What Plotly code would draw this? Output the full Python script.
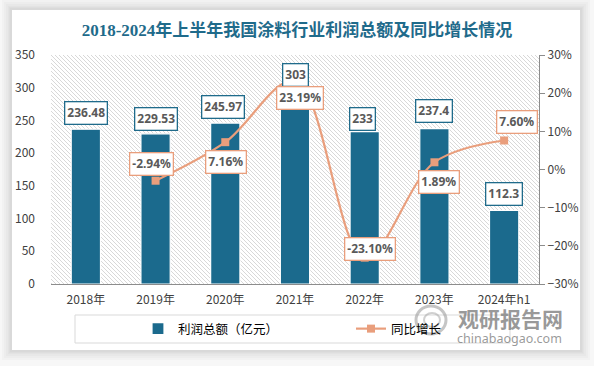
import base64
import plotly.graph_objects as go

categories = ["2018年", "2019年", "2020年", "2021年", "2022年", "2023年", "2024年h1"]
profit = [236.48, 229.53, 245.97, 303, 233, 237.4, 112.3]
growth = [None, -2.94, 7.16, 23.19, -23.10, 1.89, 7.60]
profit_labels = ["236.48", "229.53", "245.97", "303", "233", "237.4", "112.3"]
growth_labels = ["", "-2.94%", "7.16%", "23.19%", "-23.10%", "1.89%", "7.60%"]

# label offsets (px) – styling only
bar_lbl_shift = [(0, 16), (0, 15), (-2, 16), (0, 11), (-2, 13), (0, 18), (0, 17)]
line_lbl_shift = [None, (-4, 17), (1, -20), (5, -17), (5, 9), (5, -20), (13, 18)]

BAR = "#1b6a8d"
LINE = "#e99e7c"
TITLE = "#1f6b8b"

# plot-area geometry in px
L, R, T, B = 51, 539, 55, 284
W, H = 594, 366
PW, PH = R - L, B - T


def px(x):
    return (x - L) / PW


def py(y):
    return (B - y) / PH


fig = go.Figure()
fig.add_trace(go.Bar(
    x=categories, y=profit, name="利润总额（亿元）",
    marker=dict(color=BAR, line=dict(color="white", width=1.2)),
    width=0.42, yaxis="y",
))
fig.add_trace(go.Scatter(
    x=categories, y=growth, name="同比增长", yaxis="y2", mode="lines+markers",
    line=dict(color=LINE, width=2.2, shape="spline", smoothing=1.0),
    marker=dict(symbol="square", size=8, color=LINE),
    connectgaps=False,
))

annotations = []
for c, v, t, (dx, dy) in zip(categories, profit, profit_labels, bar_lbl_shift):
    annotations.append(dict(
        x=c, y=v, xref="x", yref="y", text=t, showarrow=False,
        xshift=dx, yshift=dy, yanchor="middle",
        font=dict(family="Noto Sans, DejaVu Sans", size=12, color="#595959", weight="bold"),
        bgcolor="white", bordercolor=TITLE, borderwidth=1.3, borderpad=2,
    ))
for c, v, t, s in zip(categories, growth, growth_labels, line_lbl_shift):
    if v is None:
        continue
    dx, dy = s
    annotations.append(dict(
        x=c, y=v, xref="x", yref="y2", text=t, showarrow=False,
        xshift=dx, yshift=dy, yanchor="middle",
        font=dict(family="Noto Sans, DejaVu Sans", size=12, color="#595959", weight="bold"),
        bgcolor="white", bordercolor=LINE, borderwidth=1.3, borderpad=2,
    ))

# watermark
annotations.append(dict(
    x=px(510), y=py(318), xref="paper", yref="paper", text="<b>观研报告网</b>",
    xanchor="center", yanchor="middle",
    showarrow=False, font=dict(family="Noto Sans CJK SC", size=21, color="rgba(120,120,120,0.75)"),
))
annotations.append(dict(
    x=px(509), y=py(338), xref="paper", yref="paper", text="chinabaogao.com",
    xanchor="center", yanchor="middle",
    showarrow=False, font=dict(family="Noto Sans, DejaVu Sans", size=12.5, color="rgba(120,120,120,0.75)"),
))

# hatched plot background
svg = (
    f'<svg xmlns="http://www.w3.org/2000/svg" width="{PW}" height="{PH}" viewBox="0 0 {PW} {PH}" preserveAspectRatio="none">'
    '<defs><pattern id="p" width="4" height="4" patternUnits="userSpaceOnUse">'
    '<path d="M-1,-1 L5,5 M-1,3 L1,5 M3,-1 L5,1" stroke="#d4d4d4" stroke-width="0.9"/>'
    '</pattern></defs>'
    f'<rect width="{PW}" height="{PH}" fill="white"/>'
    f'<rect width="{PW}" height="{PH}" fill="url(#p)"/></svg>'
)
src = "data:image/svg+xml;base64," + base64.b64encode(svg.encode()).decode()
images = [dict(source=src, xref="paper", yref="paper", x=0, y=1, sizex=1, sizey=1,
               xanchor="left", yanchor="top", sizing="stretch", layer="below")]

# card shadow rings (outside the white card)
cx0, cy0, cx1, cy1 = 12, 10, 580, 350
shapes = []


def ring(pad, color):
    ox0, oy0, ox1, oy1 = cx0 - pad, cy0 - pad, cx1 + pad, cy1 + pad
    path = (f"M{px(ox0)},{py(oy0)} L{px(ox1)},{py(oy0)} L{px(ox1)},{py(oy1)} L{px(ox0)},{py(oy1)} Z "
            f"M{px(cx0)},{py(cy0)} L{px(cx0)},{py(cy1)} L{px(cx1)},{py(cy1)} L{px(cx1)},{py(cy0)} Z")
    return dict(type="path", xref="paper", yref="paper", path=path,
                fillcolor=color, line=dict(width=0), layer="below")


shapes.append(ring(40, "rgba(0,0,0,0.03)"))
for p in [10, 8, 6, 4, 3, 2]:
    shapes.append(ring(p, "rgba(0,0,0,0.018)"))

# legend frame
shapes.append(dict(type="rect", xref="paper", yref="paper",
                   x0=px(75), x1=px(510), y0=py(315), y1=py(343),
                   line=dict(color="#d9d9d9", width=1), fillcolor="rgba(0,0,0,0)", layer="above"))
# watermark logo
shapes.append(dict(type="circle", xref="paper", yref="paper",
                   x0=px(416), x1=px(446), y0=py(334), y1=py(306),
                   line=dict(color="rgba(150,150,150,0.55)", width=3), layer="above"))
shapes.append(dict(type="circle", xref="paper", yref="paper",
                   x0=px(424), x1=px(440), y0=py(327), y1=py(313),
                   line=dict(color="rgba(150,150,150,0.45)", width=2), layer="above"))

fig.update_layout(
    width=W, height=H,
    margin=dict(l=L, r=W - R, t=T, b=H - B, pad=0),
    paper_bgcolor="white", plot_bgcolor="rgba(0,0,0,0)",
    title=dict(text="<b>2018-2024年上半年我国涂料行业利润总额及同比增长情况</b>",
               x=297 / W, xanchor="center", y=1 - 30 / H, yanchor="middle",
               font=dict(family="Liberation Serif, Noto Sans CJK SC", size=17, color=TITLE)),
    font=dict(family="Noto Sans CJK SC, Noto Sans", size=12, color="#404040"),
    bargap=0.58,
    showlegend=True,
    legend=dict(orientation="h", x=px(138), xanchor="left", y=py(329), yanchor="middle",
                bgcolor="rgba(0,0,0,0)", borderwidth=0, entrywidth=168,
                font=dict(family="Noto Sans CJK SC", size=12.5, color="#000000"),
                itemclick=False),
    xaxis=dict(showline=True, linecolor="#8c8c8c", linewidth=1.2, ticks="",
               showgrid=False, tickfont=dict(size=12, color="#404040"), ticklabelstandoff=4),
    yaxis=dict(range=[0, 350], dtick=50, showgrid=False, zeroline=False, showline=False,
               ticks="", tickfont=dict(size=12, color="#404040"), ticklabelstandoff=15),
    yaxis2=dict(range=[-30, 30], dtick=10, overlaying="y", side="right", showgrid=False,
                zeroline=False, showline=True, linecolor="#8c8c8c", linewidth=1.2,
                ticks="outside", ticklen=5, tickcolor="#8c8c8c", ticksuffix="%",
                tickfont=dict(size=12, color="#404040")),
    annotations=annotations, images=images, shapes=shapes,
)

fig.write_html("out.html", config={"displayModeBar": False},
               post_script="document.body.style.margin='0';")
